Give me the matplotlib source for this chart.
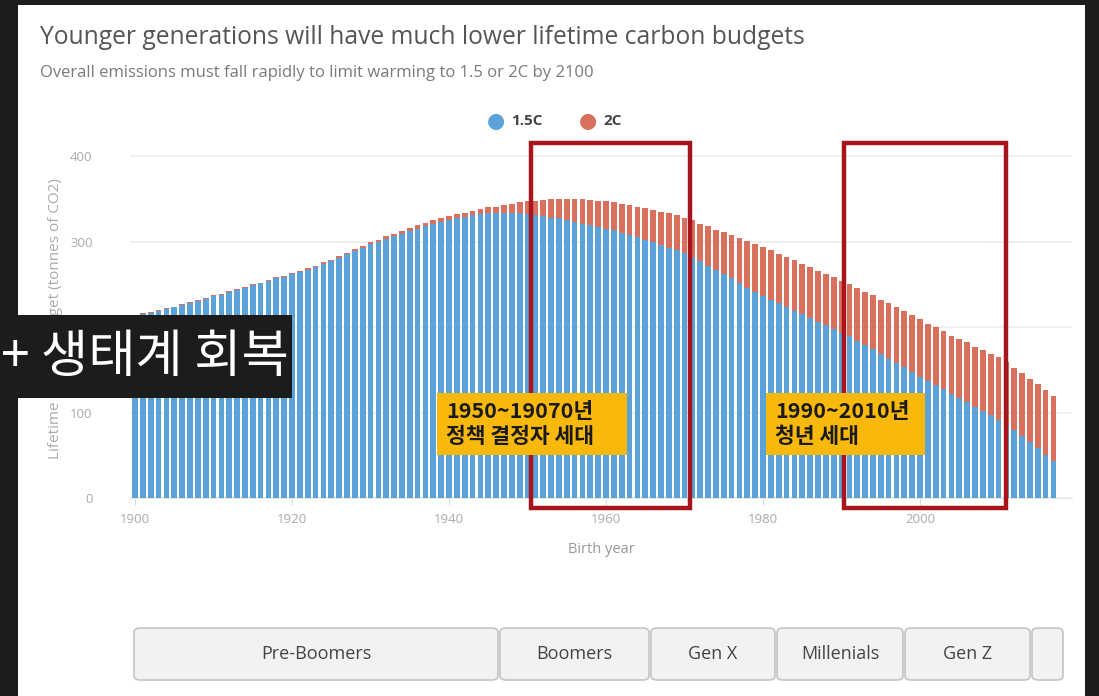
import matplotlib
matplotlib.use("Agg")
import matplotlib.pyplot as plt
from matplotlib.patches import Rectangle, FancyBboxPatch
import numpy as np

W, H = 1099, 696

# data (tonnes of CO2 per person)
years = list(range(1900, 2018))
budget_15c = [
    212, 215, 217, 219, 221, 223, 226, 228, 231, 233,
    236, 238, 241, 243, 246, 249, 251, 254, 257, 259,
    262, 264, 267, 270, 274, 277, 281, 285, 289, 293,
    297, 300, 303, 306, 309, 312, 315, 318, 321, 323,
    325, 327, 329, 331, 332, 333, 334, 334, 334, 333,
    332, 331, 330, 328, 327, 325, 323, 321, 319, 317,
    315, 313, 310, 308, 305, 302, 299, 296, 293, 290,
    287, 282, 277, 272, 267, 262, 257, 251, 246, 241,
    236, 232, 228, 224, 219, 215, 211, 206, 202, 198,
    193, 189, 184, 179, 174, 169, 163, 158, 153, 147,
    142, 137, 132, 127, 122, 117, 112, 107, 102, 97,
    91, 85, 79, 72, 65, 58, 50, 43,
]
budget_2c = [
    213, 216, 218, 220, 222, 224, 227, 229, 232, 234,
    237, 239, 242, 244, 247, 250, 252, 255, 258, 260,
    263, 266, 269, 272, 276, 279, 283, 287, 291, 295,
    299, 302, 306, 309, 312, 316, 319, 322, 325, 328,
    330, 332, 334, 336, 338, 340, 341, 343, 344, 346,
    347, 348, 349, 350, 350, 350, 350, 350, 349, 348,
    347, 346, 344, 343, 341, 339, 337, 335, 333, 331,
    328, 325, 321, 318, 314, 311, 308, 304, 301, 297,
    294, 290, 286, 282, 278, 274, 270, 266, 262, 258,
    254, 250, 246, 241, 237, 232, 228, 223, 219, 214,
    209, 204, 200, 195, 190, 186, 182, 177, 173, 169,
    165, 159, 152, 146, 139, 133, 126, 119,
]
yticks = [0, 100, 200, 300, 400]
xticks = [1900, 1920, 1940, 1960, 1980, 2000]
generations = ["Pre-Boomers", "Boomers", "Gen X", "Millenials", "Gen Z", ""]
highlight_spans = [(1950.5, 1970.7), (1990.3, 2010.9)]
highlight_notes = ["1950~19070년\n정책 결정자 세대", "1990~2010년\n청년 세대"]

BLUE = "#5aa2d8"
RED = "#d9705e"
DARK = "#1c1c1c"


def fx(px):
    return px / W


def fy(py):
    return 1 - py / H


plt.rcParams['font.family'] = ['Open Sans', 'Noto Sans CJK KR', 'DejaVu Sans']

fig = plt.figure(figsize=(W / 100, H / 100), dpi=100)
fig.patch.set_facecolor(DARK)
# white card
fig.add_artist(Rectangle((fx(18), 0), fx(1085) - fx(18), fy(5), transform=fig.transFigure,
                         facecolor="white", edgecolor="none", zorder=0))

ax = fig.add_axes([fx(130), fy(498), fx(1072) - fx(130), fy(139) - fy(498)])
ax.set_facecolor("none")

ax.bar(years, budget_2c, width=0.72, color=RED, zorder=2)
ax.bar(years, budget_15c, width=0.72, color=BLUE, zorder=3)

ax.set_xlim(1899.36, 2019.36)
ax.set_ylim(0, 420)
ax.set_yticks(yticks)
ax.set_xticks(xticks)
ax.grid(axis="y", color="#ececec", lw=1.2, zorder=0)
ax.set_axisbelow(True)
for s in ax.spines.values():
    s.set_visible(False)
ax.spines["bottom"].set_visible(True)
ax.spines["bottom"].set_color("#e6e6e6")
ax.tick_params(axis="y", length=0, pad=27, labelsize=9.5, labelcolor="#aaaaaa")
ax.tick_params(axis="x", length=5, color="#dddddd", pad=6, labelsize=9.5, labelcolor="#aaaaaa")
ax.set_xlabel("Birth year", fontsize=10.5, color="#999999", labelpad=11)
ax.set_ylabel("Lifetime carbon budget (tonnes of CO2)", fontsize=11, color="#aaaaaa", labelpad=5)

# highlight boxes (red frames)
for x0, x1 in highlight_spans:
    ax.add_patch(Rectangle((x0, -12), x1 - x0, 427, fill=False, edgecolor="#a8141c",
                           lw=3.2, zorder=5, clip_on=False))

# yellow notes
note_boxes = [(437, 627), (766, 925)]
for (l, r), txt in zip(note_boxes, highlight_notes):
    fig.add_artist(Rectangle((fx(l), fy(455)), fx(r) - fx(l), fy(393) - fy(455),
                             transform=fig.transFigure, facecolor="#f9b90c",
                             edgecolor="none", zorder=6))
    fig.text(fx(l + 9), fy(424), txt, fontsize=15.5, fontweight="bold", color="#1a1a1a",
             family=['Noto Sans CJK KR', 'DejaVu Sans'], va="center", ha="left",
             linespacing=1.2, zorder=7)

# titles
fig.text(fx(40), fy(37), "Younger generations will have much lower lifetime carbon budgets",
         fontsize=17.7, color="#555555", va="center", ha="left")
fig.text(fx(40), fy(73), "Overall emissions must fall rapidly to limit warming to 1.5 or 2C by 2100",
         fontsize=12, color="#7a7a7a", va="center", ha="left")

# legend
for cx, col, lab in [(496, BLUE, "1.5C"), (588, RED, "2C")]:
    fig.text(fx(cx), fy(121), "\u25CF", fontsize=15, color=col, va="center", ha="center",
             family="DejaVu Sans")
    fig.text(fx(cx + 15), fy(121), lab, fontsize=11, fontweight="bold", color="#444444",
             va="center", ha="left")

# generation buttons
edges = [133, 499, 650, 776, 904, 1031, 1064]
for i, lab in enumerate(generations):
    l, r = edges[i], edges[i + 1]
    fig.add_artist(FancyBboxPatch((fx(l + 1), fy(680)), fx(r - 1) - fx(l + 1), fy(628) - fy(680),
                                  boxstyle="round,pad=0,rounding_size=0.006",
                                  transform=fig.transFigure, facecolor="#f2f2f2",
                                  edgecolor="#c4c4c4", lw=1.2, zorder=3))
    if lab:
        fig.text(fx((l + r) / 2), fy(654), lab, fontsize=13, color="#444444",
                 va="center", ha="center")

# dark overlay caption on the left
fig.add_artist(Rectangle((0, fy(398)), fx(292), fy(315) - fy(398), transform=fig.transFigure,
                         facecolor=DARK, edgecolor="none", zorder=8))
fig.text(fx(1), fy(357), "+ 생태계 회복", fontsize=37, color="white", va="center", ha="left",
         family=['Noto Sans CJK KR', 'DejaVu Sans'], zorder=9)

fig.savefig("out.png", dpi=100, facecolor=fig.get_facecolor())
